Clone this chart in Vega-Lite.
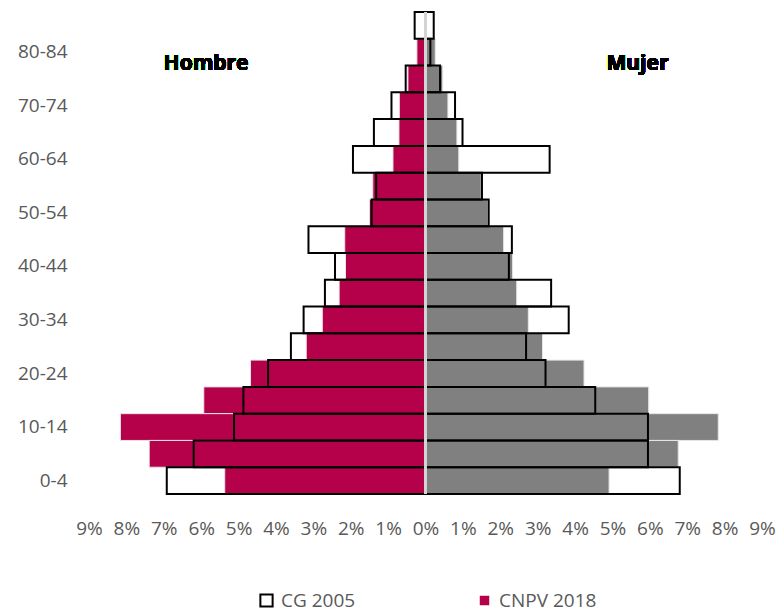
{
  "$schema": "https://vega.github.io/schema/vega-lite/v6.json",
  "autosize": {"type": "none"},
  "padding": {"left": 89, "top": 12, "right": 16, "bottom": 117},
  "width": 673,
  "height": 482,
  "background": "white",
  "config": {
    "view": {"stroke": null},
    "font": "Open Sans",
    "axis": {"labelFont": "Open Sans", "labelColor": "#595959", "labelFontSize": 19, "domain": false, "ticks": false, "grid": false, "title": null},
    "legend": {"labelFont": "Open Sans", "labelFontSize": 19, "labelColor": "#595959", "labelOffset": 5, "symbolType": "square", "title": null, "orient": "none", "direction": "horizontal"}
  },
  "data": {
    "values": [
      {"edad": "80-84", "sexo": "Hombre", "serie": "CNPV 2018", "pct": -0.23},
      {"edad": "75-79", "sexo": "Hombre", "serie": "CNPV 2018", "pct": -0.47},
      {"edad": "70-74", "sexo": "Hombre", "serie": "CNPV 2018", "pct": -0.70},
      {"edad": "65-69", "sexo": "Hombre", "serie": "CNPV 2018", "pct": -0.71},
      {"edad": "60-64", "sexo": "Hombre", "serie": "CNPV 2018", "pct": -0.87},
      {"edad": "55-59", "sexo": "Hombre", "serie": "CNPV 2018", "pct": -1.41},
      {"edad": "50-54", "sexo": "Hombre", "serie": "CNPV 2018", "pct": -1.50},
      {"edad": "45-49", "sexo": "Hombre", "serie": "CNPV 2018", "pct": -2.16},
      {"edad": "40-44", "sexo": "Hombre", "serie": "CNPV 2018", "pct": -2.14},
      {"edad": "35-39", "sexo": "Hombre", "serie": "CNPV 2018", "pct": -2.31},
      {"edad": "30-34", "sexo": "Hombre", "serie": "CNPV 2018", "pct": -2.76},
      {"edad": "25-29", "sexo": "Hombre", "serie": "CNPV 2018", "pct": -3.19},
      {"edad": "20-24", "sexo": "Hombre", "serie": "CNPV 2018", "pct": -4.68},
      {"edad": "15-19", "sexo": "Hombre", "serie": "CNPV 2018", "pct": -5.93},
      {"edad": "10-14", "sexo": "Hombre", "serie": "CNPV 2018", "pct": -8.16},
      {"edad": "5-9", "sexo": "Hombre", "serie": "CNPV 2018", "pct": -7.39},
      {"edad": "0-4", "sexo": "Hombre", "serie": "CNPV 2018", "pct": -5.37},

      {"edad": "80-84", "sexo": "Mujer", "serie": "CNPV 2018", "pct": 0.26},
      {"edad": "75-79", "sexo": "Mujer", "serie": "CNPV 2018", "pct": 0.46},
      {"edad": "70-74", "sexo": "Mujer", "serie": "CNPV 2018", "pct": 0.60},
      {"edad": "65-69", "sexo": "Mujer", "serie": "CNPV 2018", "pct": 0.84},
      {"edad": "60-64", "sexo": "Mujer", "serie": "CNPV 2018", "pct": 0.89},
      {"edad": "55-59", "sexo": "Mujer", "serie": "CNPV 2018", "pct": 1.49},
      {"edad": "50-54", "sexo": "Mujer", "serie": "CNPV 2018", "pct": 1.67},
      {"edad": "45-49", "sexo": "Mujer", "serie": "CNPV 2018", "pct": 2.09},
      {"edad": "40-44", "sexo": "Mujer", "serie": "CNPV 2018", "pct": 2.33},
      {"edad": "35-39", "sexo": "Mujer", "serie": "CNPV 2018", "pct": 2.44},
      {"edad": "30-34", "sexo": "Mujer", "serie": "CNPV 2018", "pct": 2.75},
      {"edad": "25-29", "sexo": "Mujer", "serie": "CNPV 2018", "pct": 3.13},
      {"edad": "20-24", "sexo": "Mujer", "serie": "CNPV 2018", "pct": 4.24},
      {"edad": "15-19", "sexo": "Mujer", "serie": "CNPV 2018", "pct": 5.97},
      {"edad": "10-14", "sexo": "Mujer", "serie": "CNPV 2018", "pct": 7.83},
      {"edad": "5-9", "sexo": "Mujer", "serie": "CNPV 2018", "pct": 6.76},
      {"edad": "0-4", "sexo": "Mujer", "serie": "CNPV 2018", "pct": 4.91},

      {"edad": "85+", "sexo": "Hombre", "serie": "CG 2005", "pct": -0.29},
      {"edad": "75-79", "sexo": "Hombre", "serie": "CG 2005", "pct": -0.53},
      {"edad": "70-74", "sexo": "Hombre", "serie": "CG 2005", "pct": -0.91},
      {"edad": "65-69", "sexo": "Hombre", "serie": "CG 2005", "pct": -1.38},
      {"edad": "60-64", "sexo": "Hombre", "serie": "CG 2005", "pct": -1.94},
      {"edad": "55-59", "sexo": "Hombre", "serie": "CG 2005", "pct": -1.32},
      {"edad": "50-54", "sexo": "Hombre", "serie": "CG 2005", "pct": -1.44},
      {"edad": "45-49", "sexo": "Hombre", "serie": "CG 2005", "pct": -3.13},
      {"edad": "40-44", "sexo": "Hombre", "serie": "CG 2005", "pct": -2.42},
      {"edad": "35-39", "sexo": "Hombre", "serie": "CG 2005", "pct": -2.69},
      {"edad": "30-34", "sexo": "Hombre", "serie": "CG 2005", "pct": -3.26},
      {"edad": "25-29", "sexo": "Hombre", "serie": "CG 2005", "pct": -3.60},
      {"edad": "20-24", "sexo": "Hombre", "serie": "CG 2005", "pct": -4.21},
      {"edad": "15-19", "sexo": "Hombre", "serie": "CG 2005", "pct": -4.87},
      {"edad": "10-14", "sexo": "Hombre", "serie": "CG 2005", "pct": -5.12},
      {"edad": "5-9", "sexo": "Hombre", "serie": "CG 2005", "pct": -6.20},
      {"edad": "0-4", "sexo": "Hombre", "serie": "CG 2005", "pct": -6.92},

      {"edad": "85+", "sexo": "Mujer", "serie": "CG 2005", "pct": 0.22},
      {"edad": "80-84", "sexo": "Mujer", "serie": "CG 2005", "pct": 0.13},
      {"edad": "75-79", "sexo": "Mujer", "serie": "CG 2005", "pct": 0.39},
      {"edad": "70-74", "sexo": "Mujer", "serie": "CG 2005", "pct": 0.79},
      {"edad": "65-69", "sexo": "Mujer", "serie": "CG 2005", "pct": 0.99},
      {"edad": "60-64", "sexo": "Mujer", "serie": "CG 2005", "pct": 3.32},
      {"edad": "55-59", "sexo": "Mujer", "serie": "CG 2005", "pct": 1.51},
      {"edad": "50-54", "sexo": "Mujer", "serie": "CG 2005", "pct": 1.69},
      {"edad": "45-49", "sexo": "Mujer", "serie": "CG 2005", "pct": 2.31},
      {"edad": "40-44", "sexo": "Mujer", "serie": "CG 2005", "pct": 2.23},
      {"edad": "35-39", "sexo": "Mujer", "serie": "CG 2005", "pct": 3.36},
      {"edad": "30-34", "sexo": "Mujer", "serie": "CG 2005", "pct": 3.83},
      {"edad": "25-29", "sexo": "Mujer", "serie": "CG 2005", "pct": 2.69},
      {"edad": "20-24", "sexo": "Mujer", "serie": "CG 2005", "pct": 3.21},
      {"edad": "15-19", "sexo": "Mujer", "serie": "CG 2005", "pct": 4.54},
      {"edad": "10-14", "sexo": "Mujer", "serie": "CG 2005", "pct": 5.95},
      {"edad": "5-9", "sexo": "Mujer", "serie": "CG 2005", "pct": 5.95},
      {"edad": "0-4", "sexo": "Mujer", "serie": "CG 2005", "pct": 6.80}
    ]
  },
  "encoding": {
    "y": {
      "field": "edad", "type": "nominal",
      "scale": {"domain": ["85+","80-84","75-79","70-74","65-69","60-64","55-59","50-54","45-49","40-44","35-39","30-34","25-29","20-24","15-19","10-14","5-9","0-4"], "paddingInner": 0, "paddingOuter": 0},
      "axis": {"values": ["80-84","70-74","60-64","50-54","40-44","30-34","20-24","10-14","0-4"], "labelPadding": 22}
    },
    "x": {
      "field": "pct", "type": "quantitative",
      "scale": {"domain": [-9, 9], "nice": false},
      "axis": {"values": [-9,-8,-7,-6,-5,-4,-3,-2,-1,0,1,2,3,4,5,6,7,8,9], "labelExpr": "abs(datum.value) + '%'", "labelPadding": 25, "labelOverlap": false, "labelFlush": false}
    }
  },
  "layer": [
    {
      "transform": [{"filter": "datum.serie === 'CNPV 2018'"}],
      "mark": {"type": "bar", "stroke": "#e6e6e6", "strokeWidth": 1},
      "encoding": {
        "fill": {
          "condition": {"test": "datum.sexo === 'Mujer'", "value": "#808080"},
          "field": "serie", "type": "nominal",
          "scale": {"domain": ["CNPV 2018"], "range": ["#B5004A"]},
          "legend": {"legendX": 386, "legendY": 579, "symbolSize": 90, "symbolStrokeWidth": 0, "symbolStrokeColor": "#B5004A", "symbolFillColor": "#B5004A"}
        }
      }
    },
    {
      "transform": [{"filter": "datum.serie === 'CG 2005'"}],
      "mark": {"type": "bar", "filled": false, "strokeWidth": 2},
      "encoding": {
        "stroke": {
          "field": "serie", "type": "nominal",
          "scale": {"domain": ["CG 2005"], "range": ["black"]},
          "legend": {"legendX": 168, "legendY": 579, "symbolSize": 150, "symbolStrokeWidth": 2, "symbolFillColor": "white"}
        }
      }
    },
    {
      "mark": {"type": "rule", "color": "#d4d4d4", "strokeWidth": 2},
      "encoding": {"x": {"datum": 0}, "y": null}
    },
    {
      "mark": {"type": "text", "font": "Open Sans", "fontWeight": "bold", "fontSize": 21, "fill": "black", "baseline": "alphabetic", "dy": 18},
      "encoding": {"x": {"datum": -5.87}, "y": {"datum": "80-84"}, "text": {"value": "Hombre"}}
    },
    {
      "mark": {"type": "text", "font": "Open Sans", "fontWeight": "bold", "fontSize": 21, "fill": "black", "baseline": "alphabetic", "dy": 18},
      "encoding": {"x": {"datum": 5.67}, "y": {"datum": "80-84"}, "text": {"value": "Mujer"}}
    }
  ]
}
